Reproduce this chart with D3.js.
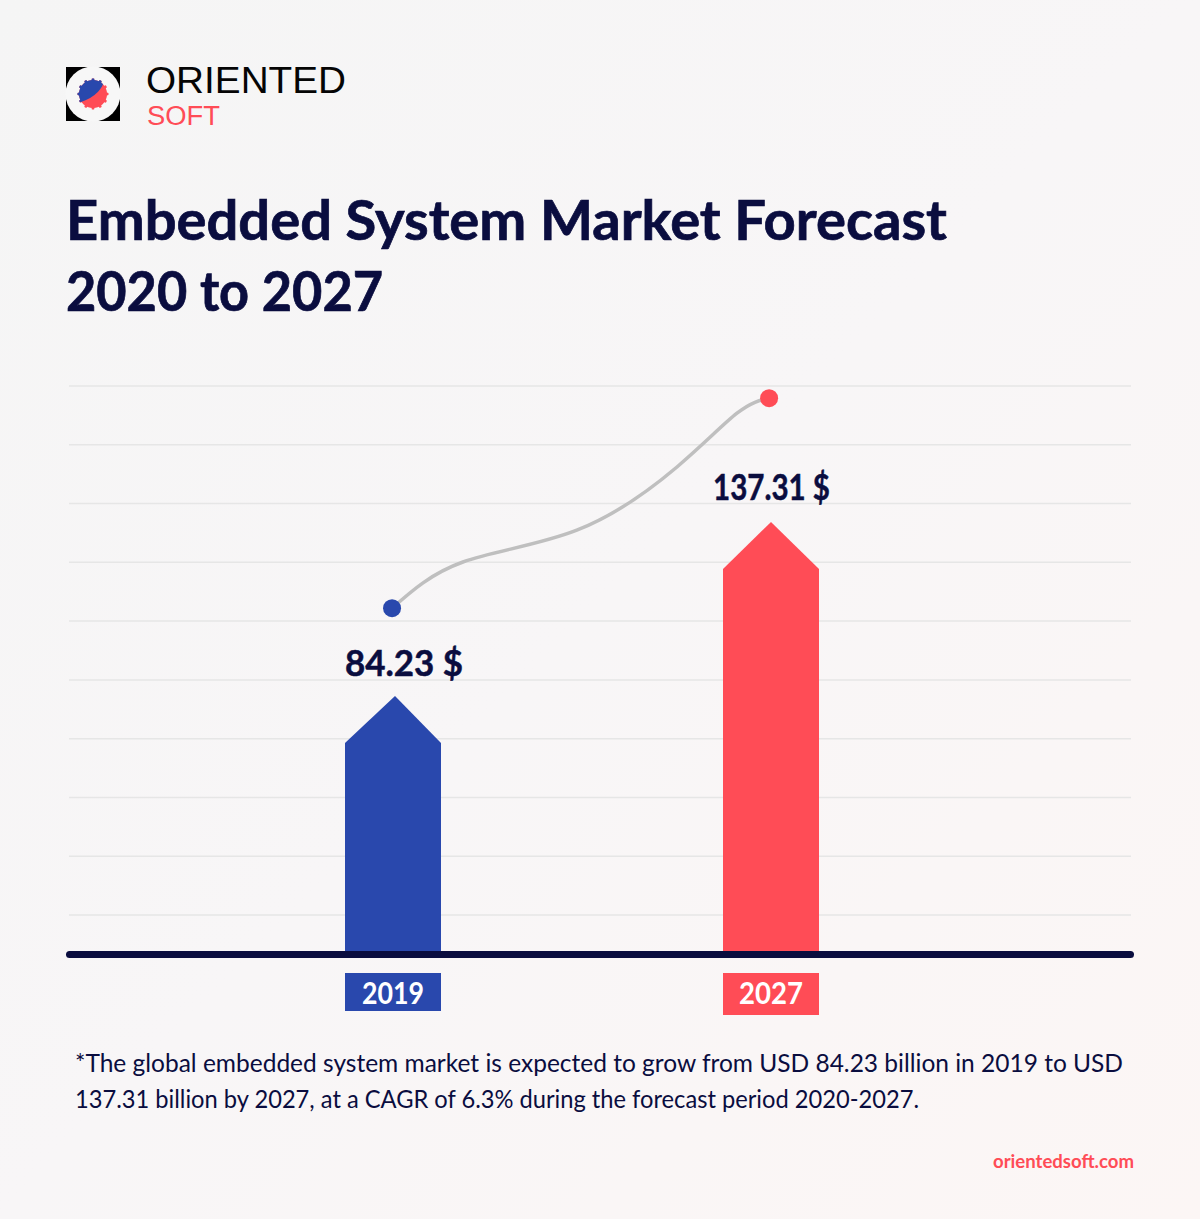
<!DOCTYPE html>
<html><head><meta charset="utf-8">
<script src="https://cdn.jsdelivr.net/npm/d3@7/dist/d3.min.js"></script>
<style>html,body{margin:0;padding:0;background:#f7f6f6}svg{display:block}text{font-family:Lato,sans-serif}</style>
</head><body><svg id="c" width="1200" height="1219"></svg>
<script>
const categories=["2019","2027"];
const values=[84.23,137.31];
const valueLabels=["84.23 $","137.31 $"];
const gridLevels=[0,1,2,3,4,5,6,7,8,9];
const curveYears=[2018.98,2020.48,2022.89,2025.01,2026.28,2026.96];
const curveValues=[111.0,125.1,134.8,154.1,170.5,175.1];
const colors=["#2948ad","#ff4c56"];
const titleLines=["Embedded System Market Forecast","2020 to 2027"];
const noteLines=["*The global embedded system market is expected to grow from USD 84.23 billion in 2019 to USD","137.31 billion by 2027, at a CAGR of 6.3% during the forecast period 2020-2027."];
const ink="#0a0d3f";
const titleW=[881,317], valueW=[118,117], tagW=[62,64], noteW=[1048,844];
const svg=d3.select("#c");
const fit=(sel,fn)=>sel.attr("textLength",fn).attr("lengthAdjust","spacingAndGlyphs");
const defs=svg.append("defs");
const g=defs.append("linearGradient").attr("id","bg").attr("x1",0).attr("y1",0).attr("x2",1).attr("y2",1);
g.append("stop").attr("offset",0).attr("stop-color","#f5f5f5");
g.append("stop").attr("offset",.5).attr("stop-color","#f8f6f7");
g.append("stop").attr("offset",1).attr("stop-color","#fcf6f5");
svg.append("rect").attr("width",1200).attr("height",1219).attr("fill","url(#bg)");

// logo
const logo=svg.append("g");
logo.append("rect").attr("x",66).attr("y",67).attr("width",54).attr("height",54).attr("fill","#000");
logo.append("circle").attr("cx",93).attr("cy",94).attr("r",27.5).attr("fill","#f7f7f7");
const gearPts=d3.range(0,360,2).map(a=>{const t=a*Math.PI/180;const k=a%30;const r=(k<6||k>24)?15.5:14;return [93+r*Math.cos(t),94+r*Math.sin(t)];});
const gearD=d3.line().curve(d3.curveLinearClosed)(gearPts);
logo.append("path").attr("d",gearD).attr("fill",colors[1]);
defs.append("clipPath").attr("id","gc").append("path").attr("d",gearD);
logo.append("path").attr("clip-path","url(#gc)").attr("fill",colors[0]).attr("d","M70 70H105Q107 93 81 102L70 104Z");
fit(logo.append("text").attr("x",146).attr("y",93).attr("font-size",37).attr("fill","#050505").style("font-family","Liberation Sans").text("ORIENTED"),200);
fit(logo.append("text").attr("x",147).attr("y",125).attr("font-size",27).attr("fill",colors[1]).style("font-family","Liberation Sans").text("SOFT"),73);

fit(svg.selectAll(".t").data(titleLines).join("text").attr("x",66).attr("y",(d,i)=>240+i*71)
 .attr("font-size",55).attr("font-weight",700).attr("fill",ink).attr("stroke",ink).attr("stroke-width",.7).text(d=>d),(d,i)=>titleW[i]);

// scales
const x=d3.scaleLinear().domain([2019,2027]).range([393,771]);
const y=d3.scaleLinear().domain([0,137.31]).range([972,522]);
const gy=d3.scaleLinear().domain([0,9]).range([915,386]);
const barW=96, shoulder=47, base=952;

svg.selectAll(".grid").data(gridLevels).join("line").attr("x1",69).attr("x2",1131)
 .attr("y1",d=>gy(d)).attr("y2",d=>gy(d)).attr("stroke","#e6e6e6").attr("stroke-width",1.5);

// arrow bars
svg.selectAll(".bar").data(values).join("path").attr("fill",(d,i)=>colors[i]).attr("d",(d,i)=>{
  const c=x(+categories[i]),t=y(d);
  return d3.line()([[c-barW/2,base],[c-barW/2,t+shoulder],[c+(i?0:2),t],[c+barW/2,t+shoulder],[c+barW/2,base]])+"Z";
});
svg.append("rect").attr("x",66).attr("y",951).attr("width",1068).attr("height",7).attr("rx",3.5).attr("fill",ink);

// curve
const pts=curveYears.map((v,i)=>[x(v),y(curveValues[i])]);
svg.append("path").attr("d",d3.line().curve(d3.curveNatural)(pts)).attr("fill","none").attr("stroke","#bfbfbf").attr("stroke-width",3.5);
[0,pts.length-1].forEach((k,i)=>svg.append("circle").attr("cx",pts[k][0]).attr("cy",pts[k][1]).attr("r",9).attr("fill",colors[i]));

// value labels
fit(svg.selectAll(".v").data(values).join("text").attr("x",(d,i)=>x(+categories[i])+(i?.5:11)).attr("y",(d,i)=>y(d)-(i?22:20))
 .attr("text-anchor","middle").attr("font-size",36).attr("font-weight",700).attr("fill",ink).attr("stroke",ink).attr("stroke-width",.5).text((d,i)=>valueLabels[i]),(d,i)=>valueW[i]);

// category tags
const tagH=[38,42];
svg.selectAll(".tag").data(categories).join("rect").attr("x",d=>x(+d)-barW/2).attr("y",973).attr("width",barW).attr("height",(d,i)=>tagH[i]).attr("fill",(d,i)=>colors[i]);
fit(svg.selectAll(".tagt").data(categories).join("text").attr("x",d=>x(+d)).attr("y",1004).attr("text-anchor","middle")
 .attr("font-size",30).attr("font-weight",700).attr("fill","#fff").text(d=>d),(d,i)=>tagW[i]);

fit(svg.selectAll(".n").data(noteLines).join("text").attr("x",75).attr("y",(d,i)=>1072+i*36)
 .attr("font-size",25).attr("fill",ink).text(d=>d),(d,i)=>noteW[i]);
fit(svg.append("text").attr("x",1134).attr("y",1168).attr("text-anchor","end").attr("font-size",18).attr("font-weight",700).attr("fill",colors[1]).text("orientedsoft.com"),141);
</script></body></html>
